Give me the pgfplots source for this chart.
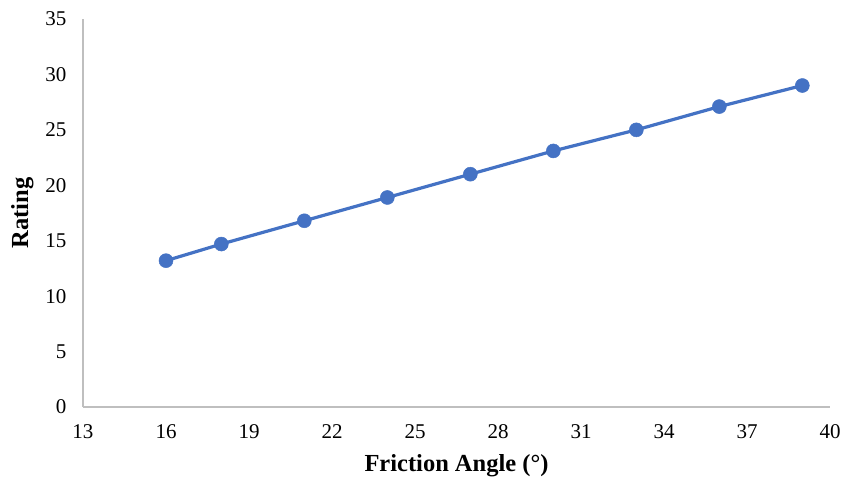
\documentclass[border=0pt]{standalone}
\usepackage{pgfplots}
\pgfplotsset{compat=1.18}
\usepackage{fontspec}
\setmainfont{Liberation Serif}
\definecolor{lineblue}{HTML}{4472C4}
\definecolor{axgray}{HTML}{BFBFBF}
\begin{document}
\begin{tikzpicture}
\begin{axis}[
  at={(0,0)}, anchor=south west,
  scale only axis, width=747pt, height=388pt,
  xmin=13, xmax=40, ymin=0, ymax=35,
  xtick={13,16,...,40}, ytick={0,5,...,35},
  axis x line*=bottom, axis y line*=left,
  axis line style={axgray, line width=1.2pt, -},
  major tick length=0pt,
  tick label style={font=\fontsize{21}{25}\selectfont},
  /pgf/number format/assume math mode=true,
  xticklabel style={yshift=-14pt},
  yticklabel style={xshift=-13pt},
  xlabel={\textbf{Friction Angle (°)}},
  ylabel={\textbf{Rating}},
  label style={font=\fontsize{24.5}{29}\selectfont},
  xlabel style={yshift=-9pt},
  ylabel style={yshift=5pt},
  clip=false,
]
\addplot[lineblue, line width=3.2pt, mark=*, mark size=7pt, mark options={fill=lineblue, draw=lineblue, line width=0.5pt, solid}]
coordinates {(16,13.2) (18,14.7) (21,16.8) (24,18.9) (27,21) (30,23.1) (33,25) (36,27.1) (39,29)};
\end{axis}
\pgfresetboundingbox
\path (-83pt,-76pt) rectangle (762pt,407pt);
\end{tikzpicture}
\end{document}
